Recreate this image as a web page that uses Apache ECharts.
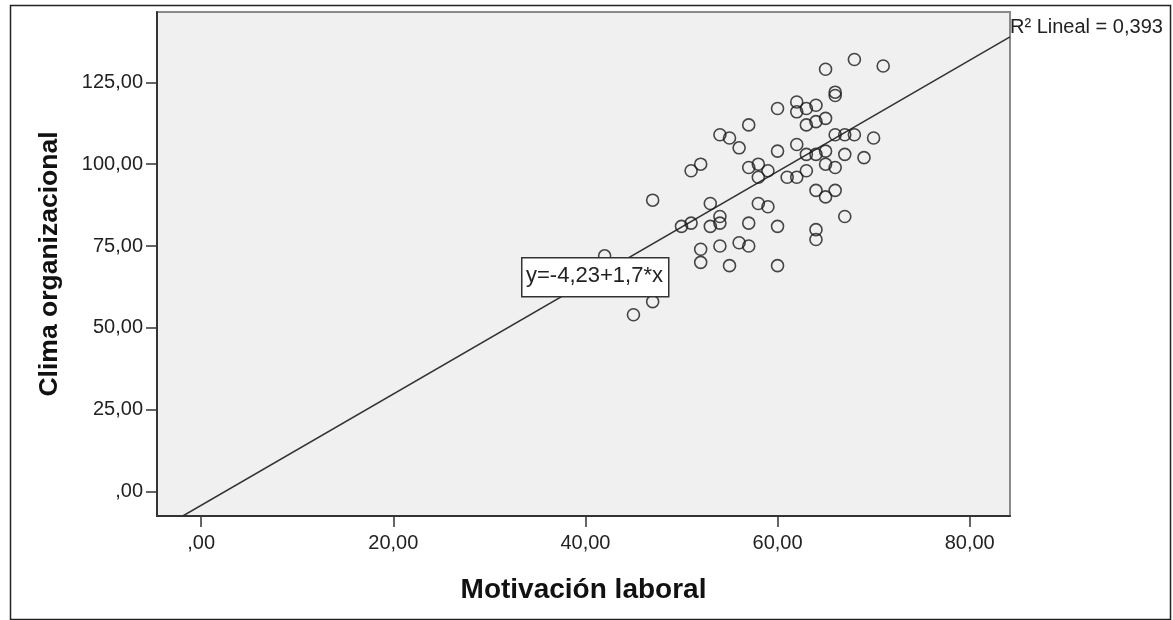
<!DOCTYPE html>
<html>
<head>
<meta charset="utf-8">
<script src="https://cdn.jsdelivr.net/npm/echarts@6/dist/echarts.min.js"></script>
<style>
html,body{margin:0;padding:0;background:#fff;}
#chart{width:1173px;height:620px;}
</style>
</head>
<body>
<div id="chart"></div>
<script>
// Motivación laboral (x) and Clima organizacional (y)
const motivacion = [42,45,47,47,50,51,51,52,52,52,53,53,54,54,54,54,55,55,56,56,57,57,57,57,58,58,58,59,59,60,60,60,60,61,62,62,62,62,63,63,63,63,64,64,64,64,64,64,65,65,65,65,65,66,66,66,66,66,67,67,67,68,68,69,70,71];
const clima      = [72,54,58,89,81,82,98,100,74,70,88,81,109,84,82,75,108,69,105,76,112,99,82,75,100,96,88,98,87,117,104,81,69,96,119,116,106,96,117,112,103,98,118,113,103,92,80,77,129,114,104,100,90,122,121,109,99,92,109,103,84,132,109,102,108,130];
const xTicks = [0,20,40,60,80];
const xTickLabels = [',00','20,00','40,00','60,00','80,00'];
const yTicks = [0,25,50,75,100,125];
const yTickLabels = [',00','25,00','50,00','75,00','100,00','125,00'];
const intercept = -4.23;
const slope = 1.7;
const r2Text = 'R² Lineal = 0,393';
const eqText = 'y=-4,23+1,7*x';

const xMin = -4.6, xMax = 84.2, yMin = -7.5, yMax = 146.5;

const points = motivacion.map((x, i) => [x, clima[i]]);
const fitLine = [[xMin, intercept + slope * xMin], [xMax, intercept + slope * xMax]];

const font = 'Arial, "Liberation Sans", sans-serif';
const chart = echarts.init(document.getElementById('chart'), null, {renderer: 'canvas'});
chart.setOption({
  animation: false,
  backgroundColor: '#ffffff',
  grid: {
    left: 157, top: 12, width: 853, height: 504,
    show: true, backgroundColor: '#f0f0f0', borderColor: '#8a8a8a', borderWidth: 2
  },
  xAxis: {
    type: 'value', min: xMin, max: xMax,
    name: 'Motivación laboral', nameLocation: 'middle', nameGap: 60,
    nameTextStyle: {fontFamily: font, fontWeight: 'bold', fontSize: 28, color: '#111'},
    axisLine: {show: true, onZero: false, lineStyle: {color: '#333', width: 2}},
    axisTick: {show: true, customValues: xTicks, length: 11, lineStyle: {color: '#333', width: 1.5}},
    axisLabel: {customValues: xTicks, margin: 17, fontFamily: font, fontSize: 20, color: '#222',
      formatter: v => xTickLabels[xTicks.indexOf(Math.round(v))] ?? ''},
    splitLine: {show: false}
  },
  yAxis: {
    type: 'value', min: yMin, max: yMax,
    name: 'Clima organizacional', nameLocation: 'middle', nameGap: 94,
    nameTextStyle: {fontFamily: font, fontWeight: 'bold', fontSize: 26.5, color: '#111'},
    axisLine: {show: true, onZero: false, lineStyle: {color: '#333', width: 2}},
    axisTick: {show: true, customValues: yTicks, length: 11, lineStyle: {color: '#333', width: 1.5}},
    axisLabel: {customValues: yTicks, margin: 14, fontFamily: font, fontSize: 20, color: '#222',
      formatter: v => yTickLabels[yTicks.indexOf(Math.round(v))] ?? ''},
    splitLine: {show: false}
  },
  series: [
    {
      type: 'line', data: fitLine, symbol: 'none', clip: true, silent: true,
      lineStyle: {color: '#333', width: 1.6}, z: 2
    },
    {
      type: 'scatter', data: points, symbol: 'circle', symbolSize: 12,
      itemStyle: {color: 'rgba(0,0,0,0)', borderColor: '#1a1a1a', borderWidth: 1.6}, z: 3
    }
  ],
  graphic: [
    {
      type: 'rect', left: 8, top: 3, silent: true, z: 0,
      shape: {width: 1160, height: 614},
      style: {fill: 'none', stroke: '#222', lineWidth: 1.5}
    },
    {
      type: 'rect', left: 521, top: 257, z: 100, zlevel: 1, silent: true,
      shape: {x: 0, y: 0, width: 147, height: 39},
      style: {fill: '#ffffff', stroke: '#333', lineWidth: 1.5}
    },
    {
      type: 'text', left: 526, top: 265, z: 101, zlevel: 1, silent: true,
      style: {text: eqText, fontFamily: font, fontSize: 22, fill: '#222', width: 137, align: 'center'}
    },
    {
      type: 'text', left: 1010, top: 17, z: 100, silent: true,
      style: {text: r2Text, fontFamily: font, fontSize: 20, fill: '#222'}
    }
  ]
});
</script>
</body>
</html>
